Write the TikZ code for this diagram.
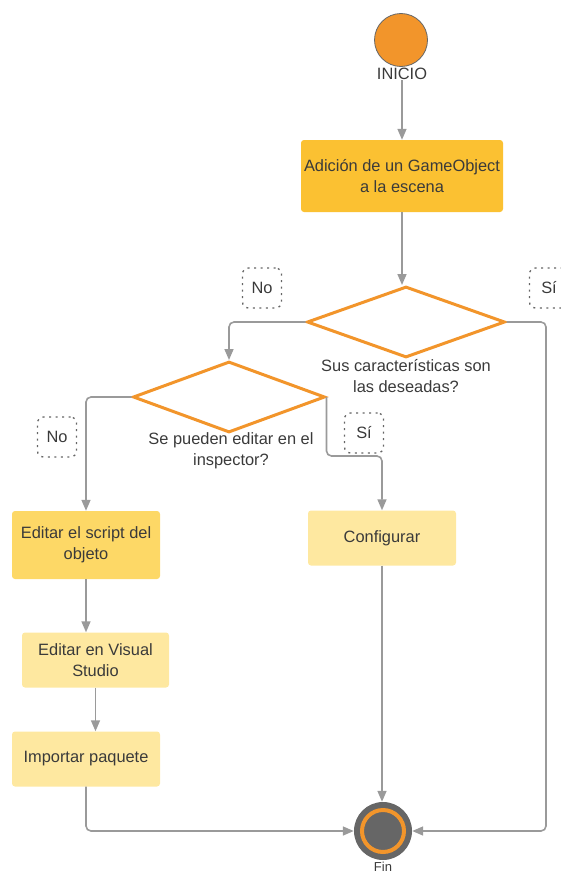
\documentclass[tikz,border=0pt]{standalone}
\usepackage{fontspec}
\setmainfont{Liberation Sans}
\usetikzlibrary{arrows.meta,shapes.geometric}
\definecolor{orng}{HTML}{F2952B}
\definecolor{ydark}{HTML}{FBC132}
\definecolor{ymid}{HTML}{FDD866}
\definecolor{ylight}{HTML}{FEE8A0}
\definecolor{txt}{HTML}{3A3A3A}
\definecolor{conn}{HTML}{9A9A9A}
\definecolor{ringgray}{HTML}{666666}
\tikzset{
  lbl/.style={text=txt,font=\fontsize{16.4}{20.5}\selectfont,align=center,inner sep=0pt},
  procbox/.style={lbl,rounded corners=3pt,minimum width=148pt,minimum height=55pt},
  decis/.style={shape=diamond,draw=orng,line width=3pt,fill=white,inner sep=0pt},
  tagbox/.style={lbl,draw=ringgray,dash pattern=on 2pt off 4.5pt,line width=1.3pt,rounded corners=6pt,minimum width=39pt,minimum height=40pt},
  flow/.style={draw=conn,line width=1.6pt,rounded corners=5pt,-{Triangle[length=11pt,width=9pt]}}
}
\begin{document}
\begin{tikzpicture}[x=1pt,y=-1pt]
\useasboundingbox (0,0) rectangle (561,875);
% start
\node[circle,fill=orng,draw=ringgray,line width=0.8pt,minimum size=53pt,inner sep=0pt] (start) at (401,40) {};
\node[lbl] (inicio) at (402,74) {INICIO};
% boxes
\node[procbox,fill=ydark,minimum width=202pt,minimum height=72pt] (b1) at (402,176) {Adición de un GameObject\\a la escena};
\node[decis,minimum width=198pt,minimum height=71pt] (d1) at (406,322) {};
\node[lbl] (d1l) at (406,376) {Sus características son\\las deseadas?};
\node[decis,minimum width=192pt,minimum height=71pt] (d2) at (229,397) {};
\node[lbl] (d2l) at (231,451) {Se pueden editar en el\\inspector?};
\node[tagbox] (no1) at (262,288) {No};
\node[tagbox] (si1) at (549,288) {Sí};
\node[tagbox] (no2) at (57,437) {No};
\node[tagbox] (si2) at (364,433) {Sí};
\node[procbox,fill=ymid,minimum height=68pt] (scr) at (86,545) {Editar el script del\\objeto};
\node[procbox,fill=ylight] (conf) at (382,538) {Configurar};
\node[procbox,fill=ylight,minimum width=147pt] (vs) at (95.5,660) {Editar en Visual\\Studio};
\node[procbox,fill=ylight] (imp) at (86,759) {Importar paquete};
% end
\node[circle,fill=ringgray,minimum size=58pt,inner sep=0pt] (fin) at (383,831) {};
\draw[orng,line width=4pt] (fin.center) circle (21pt);
\node[lbl,font=\fontsize{13}{15}\selectfont] (finl) at (383,866.5) {Fin};
% connectors
\coordinate (rx) at (546,0);
\coordinate (sy) at (0,456);
\draw[flow] (inicio.south) -- (b1.north);
\draw[flow] (b1.south) -- (b1.south |- d1.north);
\draw[flow] (d1.west) -| (d2.north);
\draw[flow] (d1.east) -| (rx |- fin.east) -- (fin.east);
\draw[flow] (d2.west) -| (scr.north);
\draw[flow] (d2.east) |- (conf.north |- sy) -- (conf.north);
\draw[flow] (scr.south) -- (scr.south |- vs.north);
\draw[flow] (vs.south) -- (vs.south |- imp.north);
\draw[flow] (imp.south) |- (fin.west);
\draw[flow] (conf.south) -- (conf.south |- fin.north);
\end{tikzpicture}
\end{document}
